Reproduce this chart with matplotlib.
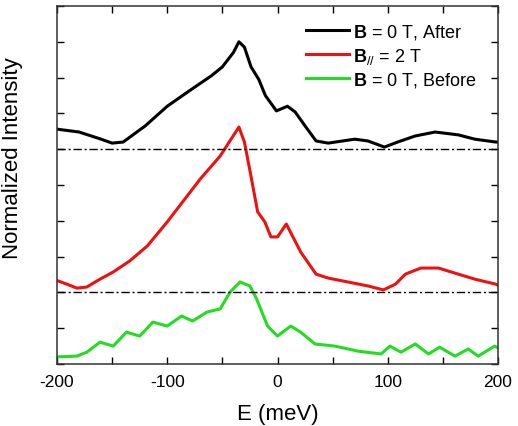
import matplotlib
matplotlib.use("Agg")
import matplotlib.pyplot as plt
from matplotlib.ticker import MultipleLocator, NullFormatter

plt.rcParams['font.family'] = ['Liberation Sans', 'DejaVu Sans']
plt.rcParams['mathtext.fontset'] = 'custom'
plt.rcParams['mathtext.rm'] = 'Liberation Sans'
plt.rcParams['mathtext.bf'] = 'Liberation Sans:bold'
plt.rcParams['mathtext.it'] = 'Liberation Sans:italic'
plt.rcParams['axes.unicode_minus'] = False

# Black: B = 0 T, After (offset by 6)
e_after = [-200, -180, -160, -150, -140, -120, -100, -80, -60, -50, -40, -35, -30, -24, -17, -11, -1, 9, 16, 25, 35, 46, 70, 82, 97, 109, 125, 143, 164, 179, 198, 200]
i_after = [6.56, 6.48, 6.28, 6.17, 6.2, 6.65, 7.2, 7.63, 8.05, 8.3, 8.7, 9.0, 8.85, 8.3, 7.95, 7.5, 7.07, 7.2, 7.04, 6.65, 6.23, 6.17, 6.28, 6.23, 6.06, 6.2, 6.37, 6.48, 6.4, 6.28, 6.2, 6.2]

# Red: B// = 2 T (offset by 2)
e_b2 = [-199, -191, -182, -173, -161, -149, -134, -118, -100, -91, -70, -52, -35, -30, -25, -18, -11.5, -6, 0, 8, 21, 35, 46, 64, 82, 96, 107, 116, 130, 146, 164, 179, 198, 200]
i_b2 = [2.32, 2.23, 2.12, 2.15, 2.37, 2.57, 2.88, 3.3, 3.97, 4.33, 5.17, 5.81, 6.62, 6.2, 5.4, 4.25, 3.97, 3.55, 3.55, 3.91, 3.13, 2.51, 2.4, 2.29, 2.18, 2.07, 2.23, 2.51, 2.68, 2.68, 2.51, 2.37, 2.23, 2.2]

# Green: B = 0 T, Before
e_before = [-200, -182, -173, -161, -149, -137, -125, -113, -100, -87, -77, -64, -52, -43, -34, -25, -19, -9, 0, 12, 21, 34, 52, 73, 94, 102, 112, 125, 137, 147, 161, 173, 182, 197, 200]
i_before = [0.2, 0.22, 0.33, 0.61, 0.5, 0.89, 0.78, 1.17, 1.06, 1.34, 1.2, 1.45, 1.54, 2.01, 2.29, 2.18, 1.82, 1.06, 0.78, 1.06, 0.89, 0.56, 0.5, 0.36, 0.28, 0.5, 0.33, 0.56, 0.28, 0.47, 0.22, 0.42, 0.22, 0.5, 0.45]

baselines = [6, 2]
labels = [r"$\mathbf{B}$ = 0 T, After", r"$\mathbf{B}_{//}$ = 2 T", r"$\mathbf{B}$ = 0 T, Before"]

fig = plt.figure(figsize=(5.18, 4.27), dpi=100)
ax = fig.add_axes([57/518, 1 - 365/427, 441/518, 358/427])

ax.plot(e_after, i_after, color='black', lw=2.2, label=labels[0])
ax.plot(e_b2, i_b2, color='#ee1111', lw=2.2, label=labels[1])
ax.plot(e_before, i_before, color='#22dd22', lw=2.2, label=labels[2])
for b in baselines:
    ax.plot([-200, 200], [b, b], color='black', lw=1.0, linestyle=(0, (6, 2, 1.5, 2)))

ax.set_xlim(-200, 200)
ax.set_ylim(0, 10)
ax.xaxis.set_major_locator(MultipleLocator(100))
ax.xaxis.set_minor_locator(MultipleLocator(50))
ax.yaxis.set_major_locator(MultipleLocator(1))
ax.yaxis.set_major_formatter(NullFormatter())
ax.tick_params(axis='both', which='both', direction='in', top=True, right=True, length=5, width=1, labelsize=12.5)
ax.tick_params(axis='x', pad=7)
for s in ax.spines.values():
    s.set_linewidth(1.1)
    s.set_color('#333333')

ax.set_xlabel('E (meV)', fontsize=16, labelpad=10)
ax.set_ylabel('Normalized Intensity', fontsize=16, labelpad=14)
ax.yaxis.set_label_coords(-0.078, 0.578)

leg = ax.legend(loc='upper right', bbox_to_anchor=(0.988, 1.0), frameon=False, fontsize=13,
                handlelength=2.4, handletextpad=0.2, labelspacing=0.25, borderaxespad=0.5)

fig.savefig('out.png', dpi=100)
